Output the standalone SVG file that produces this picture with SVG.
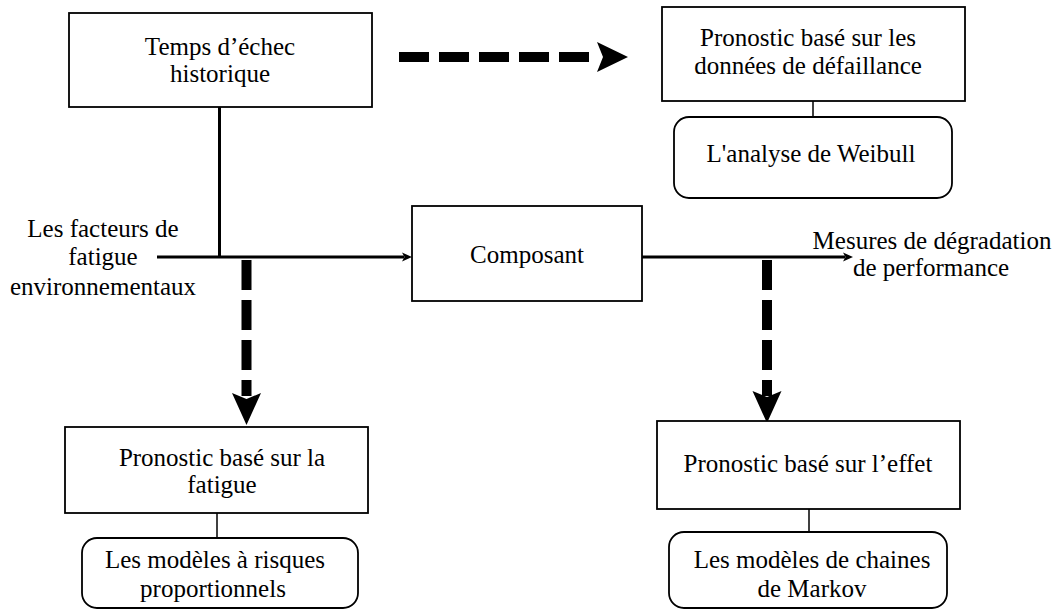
<svg xmlns="http://www.w3.org/2000/svg" width="1056" height="610" viewBox="0 0 1056 610">
<style>
text{font-family:'Liberation Serif','Times New Roman',Tinos,'DejaVu Serif',serif;font-size:25px;fill:#000;text-anchor:middle}
.box{fill:#fff;stroke:#000;stroke-width:1.8}
.thin{stroke:#000;stroke-width:1.5;fill:none}
.line{stroke:#000;stroke-width:3;fill:none}
.dash{stroke:#000;stroke-width:10;fill:none;stroke-dasharray:30 10}
.head{fill:#000}
</style>
<rect width="1056" height="610" fill="#fff"/>
<g id="connectors">
<line class="line" x1="219.5" y1="107" x2="219.5" y2="257"/>
<line class="line" x1="157" y1="257" x2="404" y2="257"/>
<path class="head" d="M412,257 L402,252.5 L404.5,257 L402,261.5 Z"/>
<line class="line" x1="642" y1="257" x2="845" y2="257"/>
<path class="head" d="M853,257 L843,252.5 L845.5,257 L843,261.5 Z"/>
<line class="dash" x1="399" y1="57" x2="598" y2="57"/>
<path class="head" d="M628,57 L597,42 L603,57 L597,72 Z"/>
<line class="dash" x1="246.5" y1="260" x2="246.5" y2="396"/>
<path class="head" d="M246.5,425 L232,393 L246.5,399 L261,393 Z"/>
<line class="dash" x1="767" y1="260" x2="767" y2="396"/>
<path class="head" d="M767,423 L752.5,391 L767,397 L781.5,391 Z"/>
<line class="thin" x1="813" y1="101" x2="813" y2="117"/>
<line class="thin" x1="217" y1="513" x2="217" y2="538"/>
<line class="thin" x1="809" y1="509" x2="809" y2="532"/>
</g>
<g id="temps">
<rect class="box" x="69" y="13" width="303" height="94"/>
<text x="220" y="55">Temps d’échec</text>
<text x="220" y="82">historique</text>
</g>
<g id="pronostic-donnees">
<rect class="box" x="662" y="7" width="303" height="94"/>
<text x="808" y="46">Pronostic basé sur les</text>
<text x="808" y="74">données de défaillance</text>
</g>
<g id="weibull">
<rect class="box" x="674" y="117" width="278" height="81" rx="15" ry="15"/>
<text x="811" y="162">L'analyse de Weibull</text>
</g>
<g id="facteurs">
<text x="103" y="237">Les facteurs de</text>
<text x="103" y="265">fatigue</text>
<text x="103" y="295">environnementaux</text>
</g>
<g id="composant">
<rect class="box" x="412" y="206" width="230" height="95"/>
<text x="527" y="263">Composant</text>
</g>
<g id="mesures">
<text x="932" y="249">Mesures de dégradation</text>
<text x="931" y="276">de performance</text>
</g>
<g id="pronostic-fatigue">
<rect class="box" x="65" y="427" width="303" height="86"/>
<text x="222" y="466">Pronostic basé sur la</text>
<text x="222" y="493">fatigue</text>
</g>
<g id="risques">
<rect class="box" x="82" y="538" width="276" height="70" rx="15" ry="15"/>
<text x="215" y="568">Les modèles à risques</text>
<text x="213" y="597">proportionnels</text>
</g>
<g id="pronostic-effet">
<rect class="box" x="657" y="421" width="303" height="88"/>
<text x="808" y="472">Pronostic basé sur l’effet</text>
</g>
<g id="markov">
<rect class="box" x="669" y="532" width="278" height="76" rx="15" ry="15"/>
<text x="812" y="568">Les modèles de chaines</text>
<text x="812" y="597">de Markov</text>
</g>
</svg>
